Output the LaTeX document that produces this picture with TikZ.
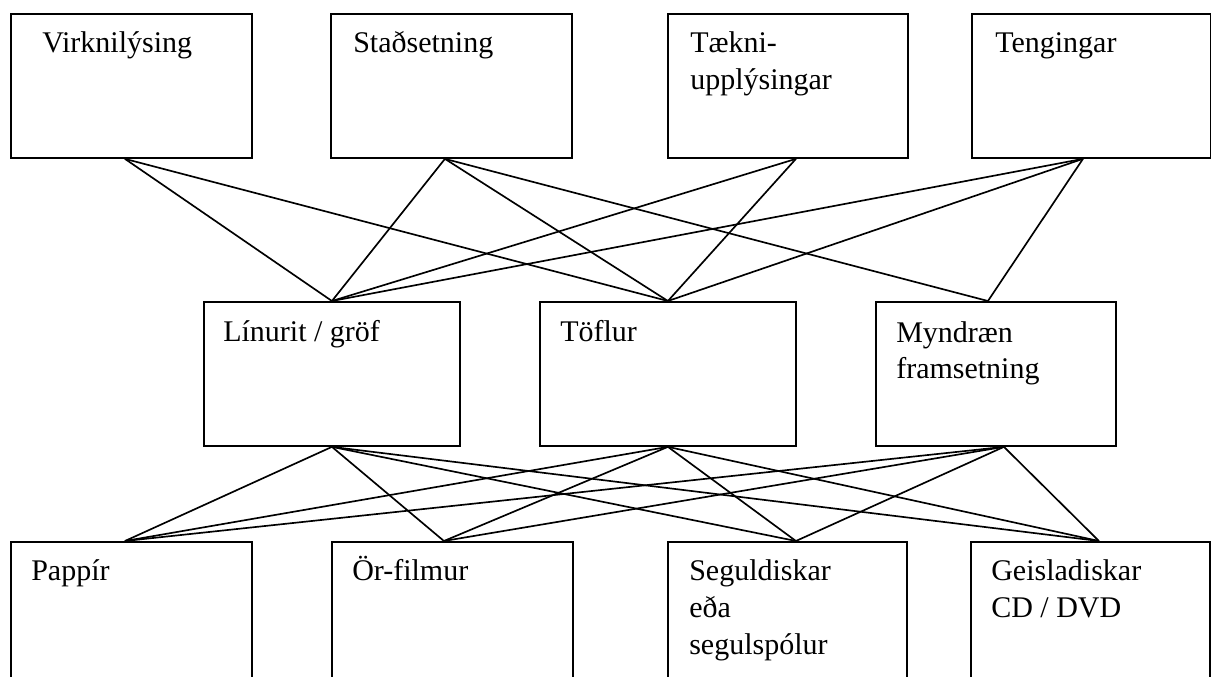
\documentclass[tikz,border=0pt]{standalone}
\usepackage{fontspec}
\setmainfont{Liberation Serif}
\begin{document}
\begin{tikzpicture}[x=0.75pt,y=-0.75pt,
  box/.style={draw, line width=1.4pt, inner sep=0pt, anchor=north west, minimum height=108pt},
  lbl/.style={inner sep=0pt, anchor=base west, align=left, font=\fontsize{22.5pt}{27.75pt}\selectfont},
  link/.style={line width=1.25pt}]
\useasboundingbox (0,0) rectangle (1211,677);
\clip (0,0) rectangle (1211,677);
% top row
\node[box, minimum width=241*0.75pt] (virk) at (10,13) {};
\node[box, minimum width=241*0.75pt] (stad) at (330,13) {};
\node[box, minimum width=240*0.75pt] (taek) at (667,13) {};
\node[box, minimum width=239*0.75pt] (teng) at (971,13) {};
% middle row
\node[box, minimum width=256*0.75pt] (lin) at (203,301) {};
\node[box, minimum width=256*0.75pt] (tof) at (539,301) {};
\node[box, minimum width=240*0.75pt] (mynd) at (875,301) {};
% bottom row
\node[box, minimum width=241*0.75pt, minimum height=130pt] (pap) at (10,541) {};
\node[box, minimum width=241*0.75pt, minimum height=130pt] (orf) at (331,541) {};
\node[box, minimum width=239*0.75pt, minimum height=130pt] (seg) at (667,541) {};
\node[box, minimum width=239*0.75pt, minimum height=130pt] (gei) at (970,541) {};
% labels (base = baseline of the last line)
\node[lbl] (virk-l) at (42,53) {Virknilýsing};
\node[lbl] (stad-l) at (353,53) {Staðsetning};
\node[lbl] (taek-l) at (690,90) {Tækni-\\upplýsingar};
\node[lbl] (teng-l) at (995,53) {Tengingar};
\node[lbl] (lin-l) at (223,342) {Línurit / gröf};
\node[lbl] (tof-l) at (560,342) {Töflur};
\node[lbl] (mynd-l) at (896,379) {Myndræn\\framsetning};
\node[lbl] (pap-l) at (31,580) {Pappír};
\node[lbl] (orf-l) at (352,580) {Ör-filmur};
\node[lbl] (seg-l) at (689,654) {Seguldiskar\\eða\\segulspólur};
\node[lbl] (gei-l) at (991,617) {Geisladiskar\\CD / DVD};
% connection points
\coordinate (virk-b) at ([xshift=-4.875pt]virk.south);
\coordinate (stad-b) at ([xshift=-4.875pt]stad.south);
\coordinate (taek-b) at ([xshift=6pt]taek.south);
\coordinate (teng-b) at ([xshift=-6.375pt]teng.south);
\coordinate (lin-t) at (lin.north);
\coordinate (lin-b) at (lin.south);
\coordinate (tof-t) at (tof.north);
\coordinate (tof-b) at (tof.south);
\coordinate (mynd-t) at ([xshift=-6pt]mynd.north);
\coordinate (mynd-b) at ([xshift=6pt]mynd.south);
\coordinate (pap-t) at ([xshift=-4.875pt]pap.north);
\coordinate (orf-t) at ([xshift=-6.375pt]orf.north);
\coordinate (seg-t) at ([xshift=6.375pt]seg.north);
\coordinate (gei-t) at ([xshift=6.375pt]gei.north);
% upper connectors
\draw[link] (virk-b) -- (lin-t);
\draw[link] (virk-b) -- (tof-t);
\draw[link] (stad-b) -- (lin-t);
\draw[link] (stad-b) -- (tof-t);
\draw[link] (stad-b) -- (mynd-t);
\draw[link] (taek-b) -- (lin-t);
\draw[link] (taek-b) -- (tof-t);
\draw[link] (teng-b) -- (lin-t);
\draw[link] (teng-b) -- (tof-t);
\draw[link] (teng-b) -- (mynd-t);
% lower connectors
\foreach \m in {lin-b,tof-b,mynd-b}{
  \foreach \s in {pap-t,orf-t,seg-t,gei-t}{
    \draw[link] (\m) -- (\s);
  }
}
\end{tikzpicture}
\end{document}
